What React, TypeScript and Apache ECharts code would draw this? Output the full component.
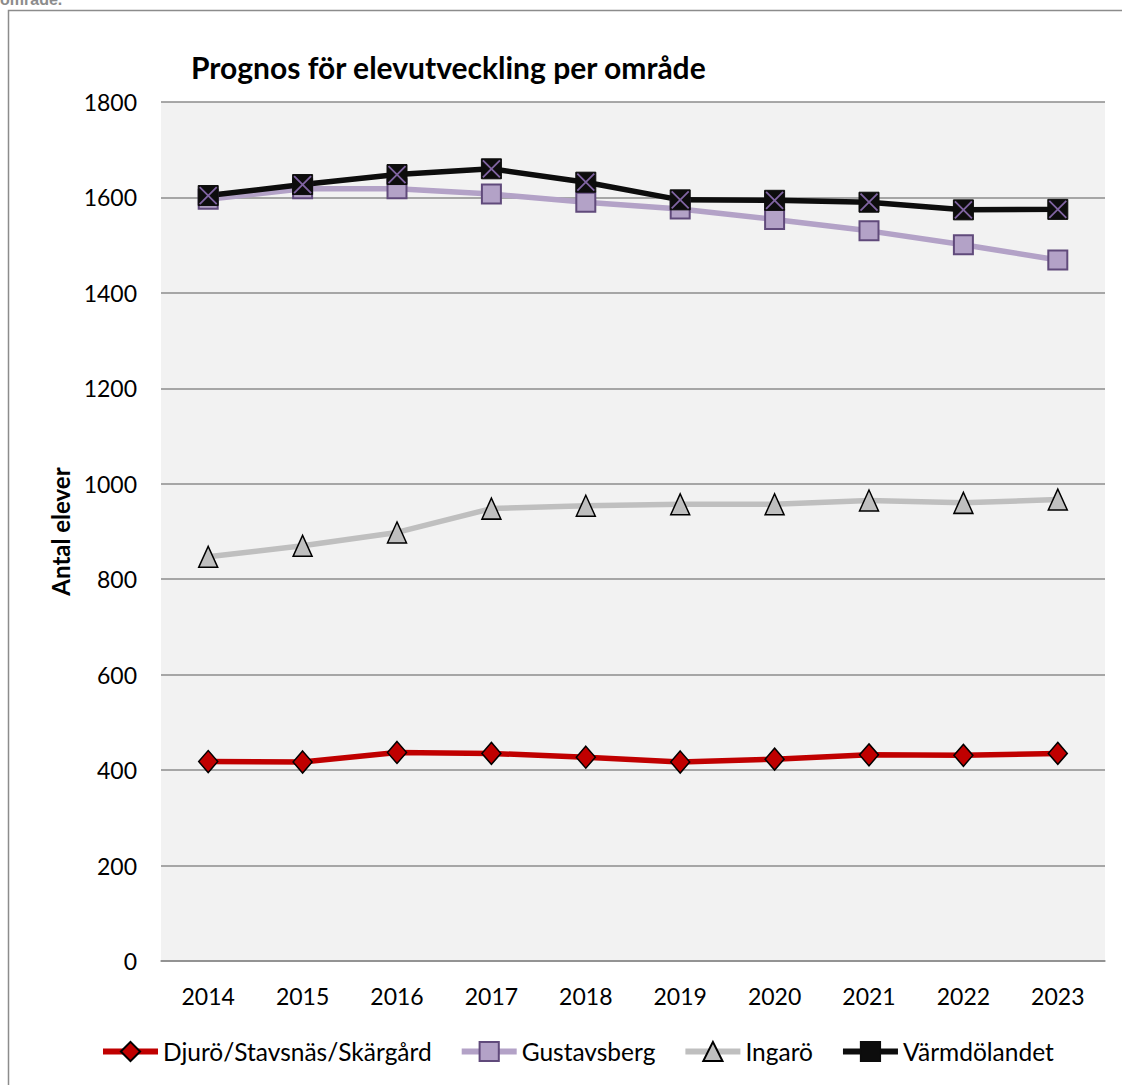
import React, { useEffect, useRef } from "react";
import * as echarts from "echarts";

const years = ["2014", "2015", "2016", "2017", "2018", "2019", "2020", "2021", "2022", "2023"];
const djuro = [418, 417, 437, 435, 427, 417, 423, 432, 431, 435];
const gustavsberg = [1596, 1618, 1618, 1607, 1590, 1576, 1554, 1530, 1501, 1469];
const ingaro = [847, 870, 898, 948, 954, 957, 957, 965, 960, 967];
const varmdo = [1604, 1627, 1648, 1660, 1632, 1595, 1594, 1590, 1574, 1575];
const seriesNames = ["Djurö/Stavsnäs/Skärgård", "Gustavsberg", "Ingarö", "Värmdölandet"];

const FONT = "Lato, Carlito, Calibri, sans-serif";

export default function App() {
  const ref = useRef<HTMLDivElement>(null);
  useEffect(() => {
    if (!ref.current) return;
    const chart = echarts.init(ref.current, null, { renderer: "svg" });
    chart.setOption({
      animation: false,
      backgroundColor: "#ffffff",
      title: {
        text: "Prognos för elevutveckling per område",
        left: 186,
        top: 47,
        textStyle: { fontFamily: FONT, fontSize: 30, fontWeight: "bold", color: "#000" },
      },
      graphic: [
        {
          type: "rect",
          z: -1,
          shape: { x: 8.5, y: 10.5, width: 1300, height: 1300 },
          style: { fill: "none", stroke: "#8c8c8c", lineWidth: 1.5 },
        },
        {
          type: "text",
          x: 0,
          y: 7,
          style: {
            text: "område.",
            font: "bold 16px Arial, 'Liberation Sans', sans-serif",
            fill: "#8c8c8c",
            textVerticalAlign: "bottom",
          },
        },
      ],
      grid: {
        left: 161,
        right: 17,
        top: 102,
        bottom: 124,
        show: true,
        backgroundColor: "#f2f2f2",
        borderWidth: 0,
      },
      legend: {
        data: seriesNames,
        left: 95,
        top: 1034,
        itemWidth: 55,
        itemHeight: 24,
        itemGap: 27,
        lineStyle: { width: 6 },
        textStyle: { fontFamily: FONT, fontSize: 24.5, color: "#000" },
      },
      xAxis: {
        type: "category",
        data: years,
        boundaryGap: true,
        axisLine: { lineStyle: { color: "#8c8c8c", width: 1.5 } },
        axisTick: { show: false },
        axisLabel: { fontFamily: FONT, fontSize: 23, color: "#000", margin: 23 },
      },
      yAxis: {
        type: "value",
        min: 0,
        max: 1800,
        interval: 200,
        name: "Antal elever",
        nameLocation: "middle",
        nameGap: 88,
        nameTextStyle: { fontFamily: FONT, fontSize: 24, fontWeight: "bold", color: "#000" },
        axisLine: { show: false },
        axisTick: { show: false },
        splitLine: { lineStyle: { color: "#8c8c8c", width: 1.5 } },
        axisLabel: {
          fontFamily: FONT,
          fontSize: 23,
          color: "#000",
          margin: 24,
          formatter: (v: number) => String(v),
        },
      },
      series: [
        {
          name: seriesNames[0],
          type: "line",
          data: djuro,
          lineStyle: { color: "#c00000", width: 5.5 },
          symbol: "diamond",
          symbolSize: [19, 22],
          itemStyle: { color: "#c00000", borderColor: "#000", borderWidth: 1.5 },
        },
        {
          name: seriesNames[1],
          type: "line",
          data: gustavsberg,
          lineStyle: { color: "#b3a2c7", width: 5.5 },
          symbol: "rect",
          symbolSize: 19,
          itemStyle: { color: "#b3a2c7", borderColor: "#604a7b", borderWidth: 2 },
        },
        {
          name: seriesNames[2],
          type: "line",
          data: ingaro,
          lineStyle: { color: "#bfbfbf", width: 5.5 },
          symbol: "triangle",
          symbolSize: [19, 21],
          itemStyle: { color: "#bfbfbf", borderColor: "#000", borderWidth: 1.5 },
        },
        {
          name: seriesNames[3],
          type: "line",
          data: varmdo,
          lineStyle: { color: "#0d0d0d", width: 5.5 },
          symbol: "rect",
          symbolSize: 20,
          itemStyle: { color: "#0d0d0d", borderColor: "#0d0d0d", borderWidth: 1 },
        },
        {
          name: "Värmdölandet-x",
          type: "line",
          data: varmdo,
          silent: true,
          lineStyle: { width: 0, opacity: 0 },
          symbol: "path://M0,0L10,10M10,0L0,10",
          symbolSize: 17,
          itemStyle: { color: "rgba(0,0,0,0)", borderColor: "#8064a2", borderWidth: 1.8 },
          z: 5,
        },
      ],
    });
    return () => chart.dispose();
  }, []);
  return (
    <div
      ref={ref}
      style={{ position: "absolute", left: 0, top: 0, width: 1122, height: 1085 }}
    />
  );
}
